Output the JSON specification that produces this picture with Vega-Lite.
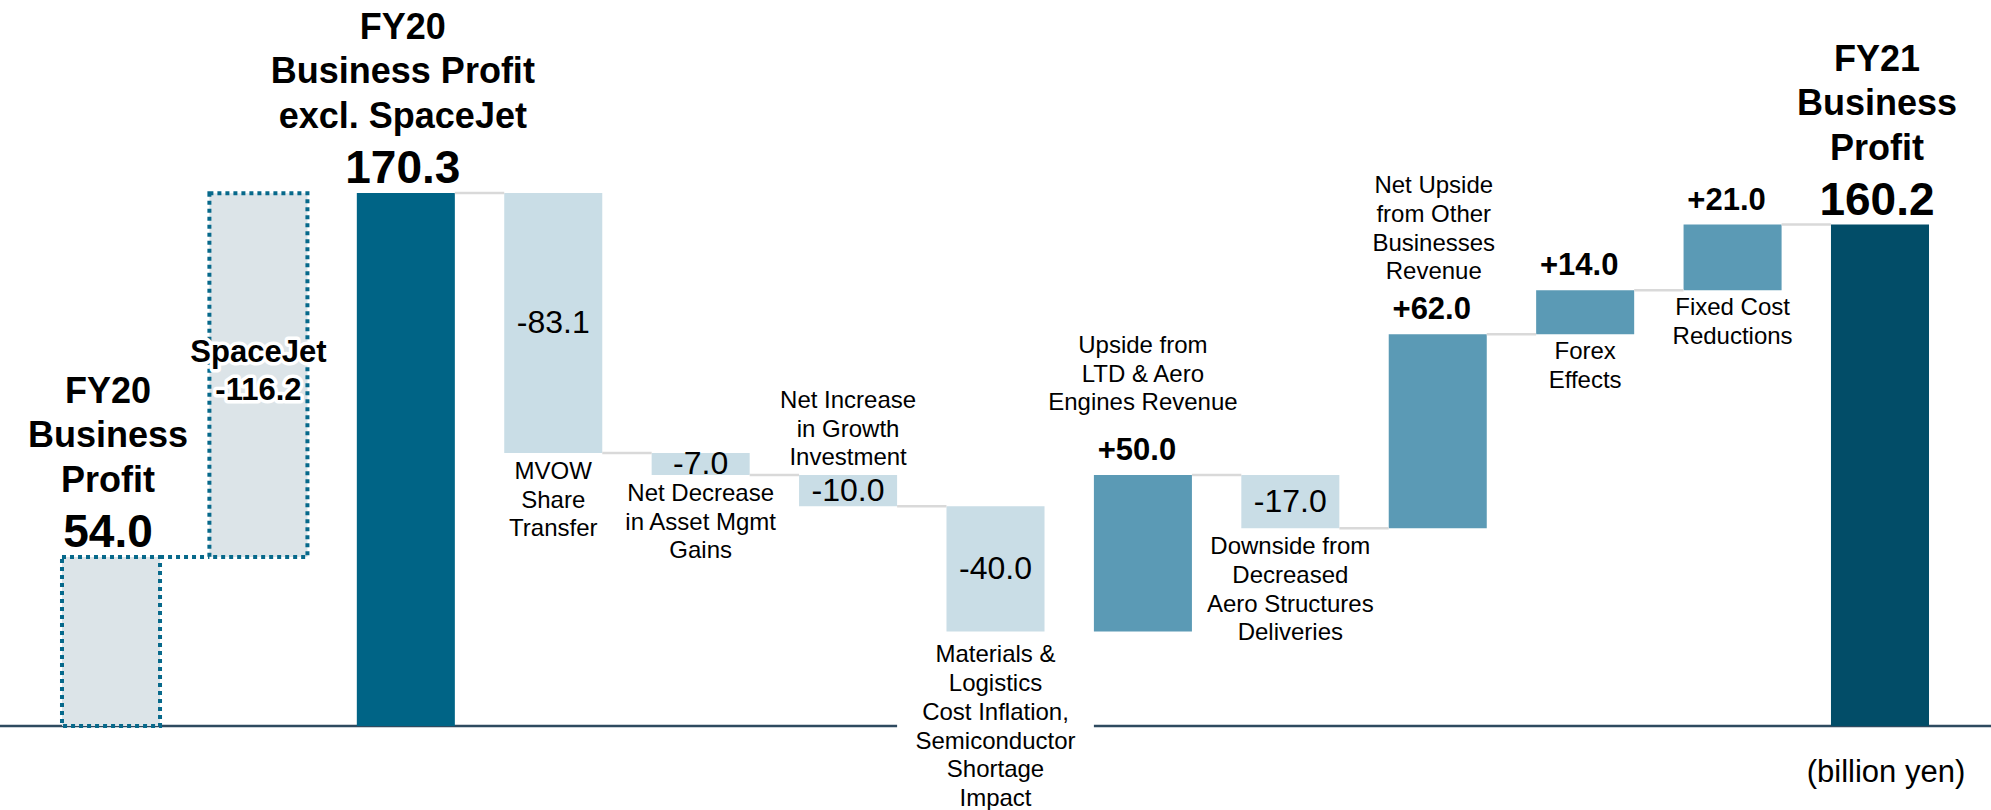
{
  "$schema": "https://vega.github.io/schema/vega-lite/v6.json",
  "width": 1991,
  "height": 810,
  "autosize": {"type": "none"},
  "padding": 0,
  "background": "white",
  "config": {"view": {"stroke": null}, "text": {"font": "Liberation Sans", "color": "#000000"}},
  "datasets": {
    "steps": [
      {"cat": "FY20", "start": 0, "end": 54.0, "kind": "ghost", "title": "FY20\nBusiness\nProfit", "value": "54.0"},
      {"cat": "SpaceJet", "start": 54.0, "end": 170.2, "kind": "ghost", "value": "SpaceJet\n-116.2"},
      {"cat": "FY20ex", "start": 0, "end": 170.3, "kind": "total", "title": "FY20\nBusiness Profit\nexcl. SpaceJet", "value": "170.3"},
      {"cat": "MVOW", "start": 170.3, "end": 87.2, "kind": "neg", "value": "-83.1", "label": "MVOW\nShare\nTransfer", "place": "below"},
      {"cat": "AssetMgmt", "start": 87.2, "end": 80.2, "kind": "neg", "value": "-7.0", "label": "Net Decrease\nin Asset Mgmt\nGains", "place": "below"},
      {"cat": "GrowthInv", "start": 80.2, "end": 70.2, "kind": "neg", "value": "-10.0", "label": "Net Increase\nin Growth\nInvestment", "place": "above"},
      {"cat": "Materials", "start": 70.2, "end": 30.2, "kind": "neg", "value": "-40.0", "label": "Materials &\nLogistics\nCost Inflation,\nSemiconductor\nShortage\nImpact", "place": "below"},
      {"cat": "LTDAero", "start": 30.2, "end": 80.2, "kind": "pos", "value": "+50.0", "label": "Upside from\nLTD & Aero\nEngines Revenue", "place": "above"},
      {"cat": "AeroStruct", "start": 80.2, "end": 63.2, "kind": "neg", "value": "-17.0", "label": "Downside from\nDecreased\nAero Structures\nDeliveries", "place": "below"},
      {"cat": "OtherBiz", "start": 63.2, "end": 125.2, "kind": "pos", "value": "+62.0", "label": "Net Upside\nfrom Other\nBusinesses\nRevenue", "place": "above"},
      {"cat": "Forex", "start": 125.2, "end": 139.2, "kind": "pos", "value": "+14.0", "label": "Forex\nEffects", "place": "below"},
      {"cat": "FixedCost", "start": 139.2, "end": 160.2, "kind": "pos", "value": "+21.0", "label": "Fixed Cost\nReductions", "place": "below"},
      {"cat": "FY21", "start": 0, "end": 160.2, "kind": "final", "title": "FY21\nBusiness\nProfit", "value": "160.2"}
    ],
    "links": [
      {"from": "FY20", "to": "SpaceJet", "level": 54.0},
      {"from": "FY20ex", "to": "MVOW", "level": 170.3},
      {"from": "MVOW", "to": "AssetMgmt", "level": 87.2},
      {"from": "AssetMgmt", "to": "GrowthInv", "level": 80.2},
      {"from": "GrowthInv", "to": "Materials", "level": 70.2},
      {"from": "LTDAero", "to": "AeroStruct", "level": 80.2},
      {"from": "AeroStruct", "to": "OtherBiz", "level": 63.2},
      {"from": "OtherBiz", "to": "Forex", "level": 125.2},
      {"from": "Forex", "to": "FixedCost", "level": 139.2},
      {"from": "FixedCost", "to": "FY21", "level": 160.2}
    ]
  },
  "data": {"name": "steps"},
  "layer": [
    {
      "data": {"values": [{"level": 0}]},
      "mark": {"type": "rule", "color": "#2E4A5F", "strokeWidth": 2.5},
      "encoding": {
        "y": {"field": "level", "type": "quantitative", "scale": {"domain": [-26.84, 231.96], "nice": false, "zero": false}, "axis": null}
      }
    },
    {
      "data": {"values": [{"from": "GrowthInv", "to": "LTDAero", "level": 0}]},
      "mark": {"type": "rule", "color": "#ffffff", "strokeWidth": 7},
      "encoding": {
        "x": {"field": "from", "type": "nominal", "bandPosition": 1, "scale": {"type": "band", "domain": ["FY20", "SpaceJet", "FY20ex", "MVOW", "AssetMgmt", "GrowthInv", "Materials", "LTDAero", "AeroStruct", "OtherBiz", "Forex", "FixedCost", "FY21"], "paddingInner": 0.335, "paddingOuter": 0.4205}, "axis": null},
        "x2": {"field": "to", "bandPosition": 0},
        "y": {"field": "level", "type": "quantitative", "scale": {"domain": [-26.84, 231.96], "nice": false, "zero": false}, "axis": null}
      }
    },
    {
      "transform": [{"filter": "datum.kind === 'ghost'"}],
      "mark": {"type": "bar", "fill": "#DCE4E8", "stroke": "#07698B", "strokeWidth": 4, "strokeDash": [4, 4]},
      "encoding": {
        "x": {"field": "cat", "type": "nominal", "scale": {"type": "band", "domain": ["FY20", "SpaceJet", "FY20ex", "MVOW", "AssetMgmt", "GrowthInv", "Materials", "LTDAero", "AeroStruct", "OtherBiz", "Forex", "FixedCost", "FY21"], "paddingInner": 0.335, "paddingOuter": 0.4205}, "axis": null},
        "y": {"field": "start", "type": "quantitative", "scale": {"domain": [-26.84, 231.96], "nice": false, "zero": false}, "axis": null},
        "y2": {"field": "end"}
      }
    },
    {
      "data": {"name": "links"},
      "transform": [{"filter": "datum.from === 'FY20'"}],
      "mark": {"type": "rule", "color": "#07698B", "strokeWidth": 4, "strokeDash": [4, 4]},
      "encoding": {
        "x": {"field": "from", "type": "nominal", "bandPosition": 1, "scale": {"type": "band", "domain": ["FY20", "SpaceJet", "FY20ex", "MVOW", "AssetMgmt", "GrowthInv", "Materials", "LTDAero", "AeroStruct", "OtherBiz", "Forex", "FixedCost", "FY21"], "paddingInner": 0.335, "paddingOuter": 0.4205}, "axis": null},
        "x2": {"field": "to", "bandPosition": 0},
        "y": {"field": "level", "type": "quantitative", "scale": {"domain": [-26.84, 231.96], "nice": false, "zero": false}, "axis": null}
      }
    },
    {
      "transform": [{"filter": "datum.kind !== 'ghost'"}],
      "mark": {"type": "bar"},
      "encoding": {
        "x": {"field": "cat", "type": "nominal", "scale": {"type": "band", "domain": ["FY20", "SpaceJet", "FY20ex", "MVOW", "AssetMgmt", "GrowthInv", "Materials", "LTDAero", "AeroStruct", "OtherBiz", "Forex", "FixedCost", "FY21"], "paddingInner": 0.335, "paddingOuter": 0.4205}, "axis": null},
        "y": {"field": "start", "type": "quantitative", "scale": {"domain": [-26.84, 231.96], "nice": false, "zero": false}, "axis": null},
        "y2": {"field": "end"},
        "color": {"field": "kind", "type": "nominal", "scale": {"domain": ["total", "neg", "pos", "final"], "range": ["#006486", "#C9DDE6", "#5B9AB5", "#024D68"]}, "legend": null}
      }
    },
    {
      "data": {"name": "links"},
      "transform": [{"filter": "datum.from !== 'FY20'"}],
      "mark": {"type": "rule", "color": "#D9D9D9", "strokeWidth": 2.5},
      "encoding": {
        "x": {"field": "from", "type": "nominal", "bandPosition": 1, "scale": {"type": "band", "domain": ["FY20", "SpaceJet", "FY20ex", "MVOW", "AssetMgmt", "GrowthInv", "Materials", "LTDAero", "AeroStruct", "OtherBiz", "Forex", "FixedCost", "FY21"], "paddingInner": 0.335, "paddingOuter": 0.4205}, "axis": null},
        "x2": {"field": "to", "bandPosition": 0},
        "y": {"field": "level", "type": "quantitative", "scale": {"domain": [-26.84, 231.96], "nice": false, "zero": false}, "axis": null}
      }
    },
    {
      "transform": [{"filter": "datum.kind === 'neg'"}, {"fold": ["start", "end"], "as": ["edge", "lvl"]}],
      "mark": {"type": "text", "fontSize": 32, "baseline": "middle", "align": "center"},
      "encoding": {
        "x": {"field": "cat", "type": "nominal", "scale": {"type": "band", "domain": ["FY20", "SpaceJet", "FY20ex", "MVOW", "AssetMgmt", "GrowthInv", "Materials", "LTDAero", "AeroStruct", "OtherBiz", "Forex", "FixedCost", "FY21"], "paddingInner": 0.335, "paddingOuter": 0.4205}, "axis": null},
        "y": {"aggregate": "mean", "field": "lvl", "type": "quantitative", "scale": {"domain": [-26.84, 231.96], "nice": false, "zero": false}, "axis": null},
        "text": {"field": "value", "type": "nominal"}
      }
    },
    {
      "transform": [{"filter": "datum.cat === 'SpaceJet'"}, {"fold": ["start", "end"], "as": ["edge", "lvl"]}],
      "mark": {"type": "text", "fontSize": 31, "fontWeight": "bold", "baseline": "middle", "align": "center", "lineBreak": "\n", "lineHeight": 38, "dy": -22, "fill": "#ffffff", "stroke": "#ffffff", "strokeWidth": 7, "strokeJoin": "round"},
      "encoding": {
        "x": {"field": "cat", "type": "nominal", "scale": {"type": "band", "domain": ["FY20", "SpaceJet", "FY20ex", "MVOW", "AssetMgmt", "GrowthInv", "Materials", "LTDAero", "AeroStruct", "OtherBiz", "Forex", "FixedCost", "FY21"], "paddingInner": 0.335, "paddingOuter": 0.4205}, "axis": null},
        "y": {"aggregate": "mean", "field": "lvl", "type": "quantitative", "scale": {"domain": [-26.84, 231.96], "nice": false, "zero": false}, "axis": null},
        "text": {"field": "value", "type": "nominal"}
      }
    },
    {
      "transform": [{"filter": "datum.cat === 'SpaceJet'"}, {"fold": ["start", "end"], "as": ["edge", "lvl"]}],
      "mark": {"type": "text", "fontSize": 31, "fontWeight": "bold", "baseline": "middle", "align": "center", "lineBreak": "\n", "lineHeight": 38, "dy": -22},
      "encoding": {
        "x": {"field": "cat", "type": "nominal", "scale": {"type": "band", "domain": ["FY20", "SpaceJet", "FY20ex", "MVOW", "AssetMgmt", "GrowthInv", "Materials", "LTDAero", "AeroStruct", "OtherBiz", "Forex", "FixedCost", "FY21"], "paddingInner": 0.335, "paddingOuter": 0.4205}, "axis": null},
        "y": {"aggregate": "mean", "field": "lvl", "type": "quantitative", "scale": {"domain": [-26.84, 231.96], "nice": false, "zero": false}, "axis": null},
        "text": {"field": "value", "type": "nominal"}
      }
    },
    {
      "transform": [{"filter": "isValid(datum.title)"}],
      "mark": {"type": "text", "fontSize": 36, "fontWeight": "bold", "baseline": "alphabetic", "align": "center", "lineBreak": "\n", "lineHeight": 44.5, "dy": -154, "dx": -3},
      "encoding": {
        "x": {"field": "cat", "type": "nominal", "scale": {"type": "band", "domain": ["FY20", "SpaceJet", "FY20ex", "MVOW", "AssetMgmt", "GrowthInv", "Materials", "LTDAero", "AeroStruct", "OtherBiz", "Forex", "FixedCost", "FY21"], "paddingInner": 0.335, "paddingOuter": 0.4205}, "axis": null},
        "y": {"field": "end", "type": "quantitative", "scale": {"domain": [-26.84, 231.96], "nice": false, "zero": false}, "axis": null},
        "text": {"field": "title", "type": "nominal"}
      }
    },
    {
      "transform": [{"filter": "isValid(datum.title)"}],
      "mark": {"type": "text", "fontSize": 46, "fontWeight": "bold", "baseline": "alphabetic", "align": "center", "dy": -10, "dx": -3},
      "encoding": {
        "x": {"field": "cat", "type": "nominal", "scale": {"type": "band", "domain": ["FY20", "SpaceJet", "FY20ex", "MVOW", "AssetMgmt", "GrowthInv", "Materials", "LTDAero", "AeroStruct", "OtherBiz", "Forex", "FixedCost", "FY21"], "paddingInner": 0.335, "paddingOuter": 0.4205}, "axis": null},
        "y": {"field": "end", "type": "quantitative", "scale": {"domain": [-26.84, 231.96], "nice": false, "zero": false}, "axis": null},
        "text": {"field": "value", "type": "nominal"}
      }
    },
    {
      "transform": [{"filter": "datum.kind === 'pos'"}],
      "mark": {"type": "text", "fontSize": 31, "fontWeight": "bold", "baseline": "alphabetic", "align": "center", "dy": -15, "dx": -6},
      "encoding": {
        "x": {"field": "cat", "type": "nominal", "scale": {"type": "band", "domain": ["FY20", "SpaceJet", "FY20ex", "MVOW", "AssetMgmt", "GrowthInv", "Materials", "LTDAero", "AeroStruct", "OtherBiz", "Forex", "FixedCost", "FY21"], "paddingInner": 0.335, "paddingOuter": 0.4205}, "axis": null},
        "y": {"field": "end", "type": "quantitative", "scale": {"domain": [-26.84, 231.96], "nice": false, "zero": false}, "axis": null},
        "text": {"field": "value", "type": "nominal"}
      }
    },
    {
      "transform": [{"filter": "datum.kind === 'neg' && datum.place === 'below' && datum.cat !== 'Materials'"}],
      "mark": {"type": "text", "fontSize": 24, "baseline": "alphabetic", "align": "center", "lineBreak": "\n", "lineHeight": 28.7, "dy": 26},
      "encoding": {
        "x": {"field": "cat", "type": "nominal", "scale": {"type": "band", "domain": ["FY20", "SpaceJet", "FY20ex", "MVOW", "AssetMgmt", "GrowthInv", "Materials", "LTDAero", "AeroStruct", "OtherBiz", "Forex", "FixedCost", "FY21"], "paddingInner": 0.335, "paddingOuter": 0.4205}, "axis": null},
        "y": {"field": "end", "type": "quantitative", "scale": {"domain": [-26.84, 231.96], "nice": false, "zero": false}, "axis": null},
        "text": {"field": "label", "type": "nominal"}
      }
    },
    {
      "transform": [{"filter": "datum.cat === 'Materials'"}],
      "mark": {"type": "text", "fontSize": 24, "baseline": "alphabetic", "align": "center", "lineBreak": "\n", "lineHeight": 28.7, "dy": 31},
      "encoding": {
        "x": {"field": "cat", "type": "nominal", "scale": {"type": "band", "domain": ["FY20", "SpaceJet", "FY20ex", "MVOW", "AssetMgmt", "GrowthInv", "Materials", "LTDAero", "AeroStruct", "OtherBiz", "Forex", "FixedCost", "FY21"], "paddingInner": 0.335, "paddingOuter": 0.4205}, "axis": null},
        "y": {"field": "end", "type": "quantitative", "scale": {"domain": [-26.84, 231.96], "nice": false, "zero": false}, "axis": null},
        "text": {"field": "label", "type": "nominal"}
      }
    },
    {
      "transform": [{"filter": "datum.kind === 'pos' && datum.place === 'below'"}],
      "mark": {"type": "text", "fontSize": 24, "baseline": "alphabetic", "align": "center", "lineBreak": "\n", "lineHeight": 28.7, "dy": 25},
      "encoding": {
        "x": {"field": "cat", "type": "nominal", "scale": {"type": "band", "domain": ["FY20", "SpaceJet", "FY20ex", "MVOW", "AssetMgmt", "GrowthInv", "Materials", "LTDAero", "AeroStruct", "OtherBiz", "Forex", "FixedCost", "FY21"], "paddingInner": 0.335, "paddingOuter": 0.4205}, "axis": null},
        "y": {"field": "start", "type": "quantitative", "scale": {"domain": [-26.84, 231.96], "nice": false, "zero": false}, "axis": null},
        "text": {"field": "label", "type": "nominal"}
      }
    },
    {
      "transform": [{"filter": "datum.kind === 'neg' && datum.place === 'above'"}],
      "mark": {"type": "text", "fontSize": 24, "baseline": "alphabetic", "align": "center", "lineBreak": "\n", "lineHeight": 28.7, "dy": -67},
      "encoding": {
        "x": {"field": "cat", "type": "nominal", "scale": {"type": "band", "domain": ["FY20", "SpaceJet", "FY20ex", "MVOW", "AssetMgmt", "GrowthInv", "Materials", "LTDAero", "AeroStruct", "OtherBiz", "Forex", "FixedCost", "FY21"], "paddingInner": 0.335, "paddingOuter": 0.4205}, "axis": null},
        "y": {"field": "start", "type": "quantitative", "scale": {"domain": [-26.84, 231.96], "nice": false, "zero": false}, "axis": null},
        "text": {"field": "label", "type": "nominal"}
      }
    },
    {
      "transform": [{"filter": "datum.cat === 'LTDAero'"}],
      "mark": {"type": "text", "fontSize": 24, "baseline": "alphabetic", "align": "center", "lineBreak": "\n", "lineHeight": 28.7, "dy": -122},
      "encoding": {
        "x": {"field": "cat", "type": "nominal", "scale": {"type": "band", "domain": ["FY20", "SpaceJet", "FY20ex", "MVOW", "AssetMgmt", "GrowthInv", "Materials", "LTDAero", "AeroStruct", "OtherBiz", "Forex", "FixedCost", "FY21"], "paddingInner": 0.335, "paddingOuter": 0.4205}, "axis": null},
        "y": {"field": "end", "type": "quantitative", "scale": {"domain": [-26.84, 231.96], "nice": false, "zero": false}, "axis": null},
        "text": {"field": "label", "type": "nominal"}
      }
    },
    {
      "transform": [{"filter": "datum.cat === 'OtherBiz'"}],
      "mark": {"type": "text", "fontSize": 24, "baseline": "alphabetic", "align": "center", "lineBreak": "\n", "lineHeight": 28.7, "dy": -141, "dx": -4},
      "encoding": {
        "x": {"field": "cat", "type": "nominal", "scale": {"type": "band", "domain": ["FY20", "SpaceJet", "FY20ex", "MVOW", "AssetMgmt", "GrowthInv", "Materials", "LTDAero", "AeroStruct", "OtherBiz", "Forex", "FixedCost", "FY21"], "paddingInner": 0.335, "paddingOuter": 0.4205}, "axis": null},
        "y": {"field": "end", "type": "quantitative", "scale": {"domain": [-26.84, 231.96], "nice": false, "zero": false}, "axis": null},
        "text": {"field": "label", "type": "nominal"}
      }
    },
    {
      "data": {"values": [{"cat": "FY21", "level": 0, "note": "(billion yen)"}]},
      "mark": {"type": "text", "fontSize": 31, "baseline": "alphabetic", "align": "center", "dy": 56, "dx": 6},
      "encoding": {
        "x": {"field": "cat", "type": "nominal", "scale": {"type": "band", "domain": ["FY20", "SpaceJet", "FY20ex", "MVOW", "AssetMgmt", "GrowthInv", "Materials", "LTDAero", "AeroStruct", "OtherBiz", "Forex", "FixedCost", "FY21"], "paddingInner": 0.335, "paddingOuter": 0.4205}, "axis": null},
        "y": {"field": "level", "type": "quantitative", "scale": {"domain": [-26.84, 231.96], "nice": false, "zero": false}, "axis": null},
        "text": {"field": "note", "type": "nominal"}
      }
    }
  ]
}
